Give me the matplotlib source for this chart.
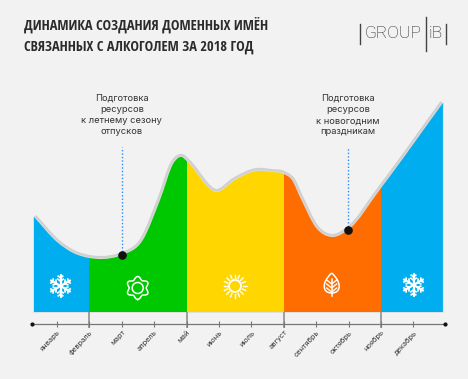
import numpy as np
import matplotlib
matplotlib.use("Agg")
import matplotlib.pyplot as plt
from matplotlib.patches import Circle, PathPatch, Rectangle
from matplotlib.path import Path

title_lines = ["ДИНАМИКА СОЗДАНИЯ ДОМЕННЫХ ИМЁН", "СВЯЗАННЫХ С АЛКОГОЛЕМ ЗА 2018 ГОД"]
months = ["январь", "февраль", "март", "апрель", "май", "июнь", "июль", "август",
          "сентябрь", "октябрь", "ноябрь", "декабрь"]

# curve: x in months (0 = январь), y in relative units
curve_x = [-0.71, 0.0, 0.5, 1.0, 1.4, 2.0, 2.65, 3.18, 3.62, 3.85, 4.0, 4.93, 5.5, 6.16,
           6.6, 7.0, 7.25, 7.5, 8.0, 8.47, 8.98, 10.0, 11.91]
curve_y = [95, 70, 59, 54, 53, 57, 72, 112, 150, 155, 151, 120, 132, 141,
           140, 138, 132, 115, 84, 75, 82, 124, 209]

season_edges = [-0.71, 1.0, 4.0, 7.0, 10.0, 11.91]
season_colors = ["#00aeef", "#00c800", "#ffd600", "#ff6d00", "#00aeef"]

notes = ["Подготовка\nресурсов\nк летнему сезону\nотпусков",
         "Подготовка\nресурсов\nк новогодним\nпраздникам"]
note_months = [2.0, 8.98]
note_values = [57, 82]

BG = "#f2f2f2"
GREY = "#d0d0d0"
DARK = "#333333"


def smooth_path(xs, ys, close_at=None):
    # hermite through the read points, tangents scaled to the spacing in x
    xs, ys = np.asarray(xs, float), np.asarray(ys, float)
    m = np.gradient(ys, xs, edge_order=1)
    verts, codes = [(xs[0], ys[0])], [Path.MOVETO]
    for i in range(len(xs) - 1):
        dx = xs[i + 1] - xs[i]
        verts += [(xs[i] + dx / 3, ys[i] + m[i] * dx / 3),
                  (xs[i + 1] - dx / 3, ys[i + 1] - m[i + 1] * dx / 3),
                  (xs[i + 1], ys[i + 1])]
        codes += [Path.CURVE4] * 3
    if close_at is not None:
        verts += [(xs[-1], close_at), (xs[0], close_at), (xs[0], ys[0])]
        codes += [Path.LINETO, Path.LINETO, Path.CLOSEPOLY]
    return Path(verts, codes)


fig = plt.figure(figsize=(4.68, 3.79), dpi=100, facecolor=BG)
ax = fig.add_axes([0, 0, 1, 1], facecolor=BG)
ax.set_xlim(-57 / 32.4, (468 - 57) / 32.4)
ax.set_ylim(-67, 312)

# area
outline = PathPatch(smooth_path(curve_x, curve_y), fc="none", ec=GREY, lw=4.4, zorder=1)
ax.add_patch(outline)
outline.set_clip_path(Rectangle((-0.74, -2), 12.68, 330, transform=ax.transData))
area = smooth_path(curve_x, curve_y, close_at=0)
ax.add_patch(PathPatch(area, fc="none", ec="#dcdcdc", lw=1.2, zorder=1))
clip = PathPatch(area, transform=ax.transData, fc="none", ec="none")
for i, c in enumerate(season_colors):
    band = ax.axvspan(season_edges[i], season_edges[i + 1], color=c, lw=0, zorder=2)
    band.set_clip_path(clip)

# month axis
for s in ["top", "left", "right"]:
    ax.spines[s].set_visible(False)
ax.spines["bottom"].set_position(("data", -12))
ax.spines["bottom"].set_bounds(-0.77, 11.97)
ax.spines["bottom"].set_color("#777777")
ax.spines["bottom"].set_linewidth(0.9)
ax.set_yticks([])
ax.set_xticks(range(12))
ax.set_xticklabels(months, rotation=47, ha="right", va="top", rotation_mode="anchor",
                   fontsize=5.3, color=DARK, family="Inter")
ax.tick_params(axis="x", direction="inout", length=4.5, width=0.8, color="#777777", pad=1.5)
ax.vlines(season_edges[1:-1], -16, 0, color="#888888", lw=1.1, zorder=1)
ax.plot([-0.77, 11.97], [-12, -12], "o", ms=2, color="#111111", clip_on=False, zorder=3)

# notes
for text, m, v in zip(notes, note_months, note_values):
    ax.plot([m, m], [v, 165], color="#2a8cff", lw=1, ls=(0, (1, 1.5)), zorder=3)
    ax.plot(m, v, "o", ms=5.2, color="#111111", zorder=4)
    ax.text(m, 218, text, ha="center", va="top", fontsize=6.7, color=DARK, family="Inter",
            linespacing=1.3)

# pixel overlay for title, logo and icons
px = fig.add_axes([0, 0, 1, 1], facecolor="none")
px.set_xlim(0, 468)
px.set_ylim(379, 0)
px.axis("off")
for line, y in zip(title_lines, [25, 47]):
    px.text(23.5, y, line, ha="left", va="center", fontsize=10.4, fontweight="bold",
            family="Open Sans Condensed", color="#2b2b2b")

for x, y0, y1 in [(360, 24, 44), (426, 17, 51), (446, 24, 44)]:
    px.plot([x, x], [y0, y1], color="#444444", lw=1)
px.text(393, 34, "GROUP", ha="center", va="center", fontsize=12.5, fontweight=250,
        family="Roboto", color="#222222")
px.text(436, 34, "iB", ha="center", va="center", fontsize=12.5, fontweight=250,
        family="Roboto", color="#222222")


def snowflake(cx, cy, r):
    for a in np.deg2rad(np.arange(0, 360, 60) + 90):
        d = np.array([np.cos(a), np.sin(a)])
        c = np.array([cx, cy])
        px.plot(*zip(c, c + r * d), color="white", lw=1.6, solid_capstyle="round")
        for f, b in [(0.45, 0.3), (0.75, 0.25)]:
            for s in (-1, 1):
                t = a + s * np.deg2rad(55)
                e = np.array([np.cos(t), np.sin(t)])
                px.plot(*zip(c + f * r * d, c + f * r * d + b * r * e), color="white", lw=1.2)


def flower(cx, cy):
    t = np.linspace(0, 2 * np.pi, 200)
    r = 10 + 1.5 * np.cos(6 * t)
    px.plot(cx + r * np.sin(t), cy + r * np.cos(t), color="white", lw=1.1)
    px.add_patch(Circle((cx, cy), 5.5, fc="none", ec="white", lw=1.1))


def sun(cx, cy):
    px.add_patch(Circle((cx, cy), 6, fc="none", ec="white", lw=1.3))
    for a in np.deg2rad(np.arange(0, 360, 22.5)):
        px.plot([cx + 8 * np.cos(a), cx + 11.5 * np.cos(a)],
                [cy + 8 * np.sin(a), cy + 11.5 * np.sin(a)], color="white", lw=1)


def leaf(cx, cy):
    verts = [(cx, cy - 12), (cx + 10, cy - 3), (cx + 10, cy + 8), (cx, cy + 8),
             (cx - 10, cy + 8), (cx - 10, cy - 3), (cx, cy - 12)]
    codes = [Path.MOVETO] + [Path.CURVE4] * 6
    px.add_patch(PathPatch(Path(verts, codes), fc="none", ec="white", lw=1.1))
    px.plot([cx, cx], [cy - 6, cy + 11], color="white", lw=1.1)
    for dy in (-3, 1, 5):
        px.plot([cx - 5, cx, cx + 5], [cy + dy - 2, cy + dy + 2, cy + dy - 2], color="white", lw=1)


snowflake(60.5, 286, 11)
flower(137.7, 288)
sun(235, 286)
leaf(331.7, 285)
snowflake(413.5, 285, 11)

fig.savefig("out.png", dpi=100, facecolor=BG)
